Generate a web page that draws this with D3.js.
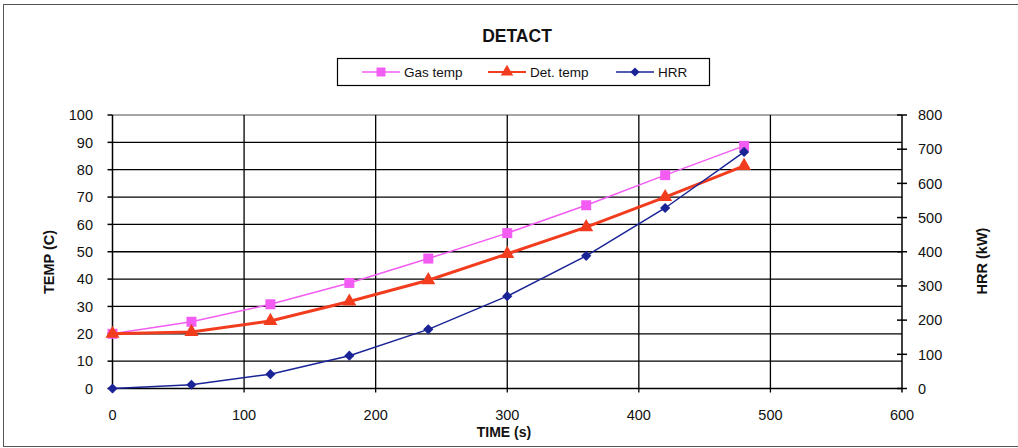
<!DOCTYPE html>
<html>
<head>
<meta charset="utf-8">
<script src="https://cdn.jsdelivr.net/npm/d3@7"></script>
<style>
  html, body { margin: 0; padding: 0; background: #fff; }
  svg text { font-family: "Liberation Sans", Arial, sans-serif; fill: #111; }
</style>
</head>
<body>
<svg id="chart" width="1018" height="448"></svg>
<script>
// data
const times    = [0, 60, 120, 180, 240, 300, 360, 420, 480];
const gasTemp  = [20, 24.4, 30.8, 38.6, 47.5, 56.8, 67, 78, 88.7];
const detTemp  = [20, 20.7, 24.7, 31.8, 39.6, 49.2, 59, 70, 81.4];
const hrr      = [0, 11, 42, 96, 173, 270, 388, 528, 692];
const xTicks   = [0, 100, 200, 300, 400, 500, 600];
const yTicks   = d3.range(0, 101, 10);
const y2Ticks  = d3.range(0, 801, 100);

const svg = d3.select("#chart");

// outer frame
svg.append("rect")
   .attr("x", 3.5).attr("y", 4.5)
   .attr("width", 1040).attr("height", 442)
   .attr("fill", "none").attr("stroke", "#555").attr("stroke-width", 1);

const m = { left: 112.5, right: 902, top: 115, bottom: 388.5 };

const x  = d3.scaleLinear().domain([0, 600]).range([m.left, m.right]);
const y  = d3.scaleLinear().domain([0, 100]).range([m.bottom, m.top]);
const y2 = d3.scaleLinear().domain([0, 800]).range([m.bottom, m.top]);

/* ---- grid ---- */
svg.append("g")
   .selectAll("line")
   .data(yTicks.slice(1))
   .join("line")
   .attr("x1", m.left).attr("x2", m.right)
   .attr("y1", d => y(d)).attr("y2", d => y(d))
   .attr("stroke", d => d === 100 ? "#888" : "#000")
   .attr("stroke-width", 1.3);

svg.append("g")
   .selectAll("line")
   .data(xTicks.slice(1, -1))
   .join("line")
   .attr("x1", d => x(d)).attr("x2", d => x(d))
   .attr("y1", m.top).attr("y2", m.bottom + 4)
   .attr("stroke", "#000")
   .attr("stroke-width", 1.3);

/* ---- axes ---- */
const axis = svg.append("g").attr("stroke", "#000").attr("stroke-width", 1.5);
axis.append("line").attr("x1", m.left).attr("x2", m.left).attr("y1", m.top).attr("y2", m.bottom);
axis.append("line").attr("x1", m.right).attr("x2", m.right).attr("y1", m.top).attr("y2", m.bottom + 4);
axis.append("line").attr("x1", m.left).attr("x2", m.right).attr("y1", m.bottom).attr("y2", m.bottom);

// left ticks
axis.selectAll("line.lt").data(yTicks).join("line").attr("class", "lt")
    .attr("x1", m.left - 5).attr("x2", m.left)
    .attr("y1", d => y(d)).attr("y2", d => y(d));
axis.append("line").attr("x1", m.left).attr("x2", m.left).attr("y1", m.bottom).attr("y2", m.bottom + 4);
// right ticks (cross)
axis.selectAll("line.rt").data(y2Ticks).join("line").attr("class", "rt")
    .attr("x1", m.right - 5).attr("x2", m.right + 5)
    .attr("y1", d => y2(d)).attr("y2", d => y2(d));

svg.append("g").selectAll("text").data(yTicks).join("text")
   .attr("x", 93).attr("y", d => y(d)).attr("dy", "0.36em")
   .attr("text-anchor", "end").attr("font-size", 14.5)
   .text(d => d);

svg.append("g").selectAll("text").data(y2Ticks).join("text")
   .attr("x", 918).attr("y", d => y2(d)).attr("dy", "0.36em")
   .attr("text-anchor", "start").attr("font-size", 14.5)
   .text(d => d);

svg.append("g").selectAll("text").data(xTicks).join("text")
   .attr("x", d => x(d)).attr("y", 415).attr("dy", "0.36em")
   .attr("text-anchor", "middle").attr("font-size", 14.5)
   .text(d => d);

/* ---- titles ---- */
svg.append("text").attr("x", 517).attr("y", 42)
   .attr("text-anchor", "middle").attr("font-size", 17.5).attr("font-weight", "bold")
   .text("DETACT");
svg.append("text").attr("x", 504).attr("y", 437)
   .attr("text-anchor", "middle").attr("font-size", 14).attr("font-weight", "bold")
   .text("TIME (s)");
svg.append("text").attr("transform", "translate(54,262) rotate(-90)")
   .attr("text-anchor", "middle").attr("font-size", 14.5).attr("font-weight", "bold")
   .text("TEMP (C)");
svg.append("text").attr("transform", "translate(987,261) rotate(-90)")
   .attr("text-anchor", "middle").attr("font-size", 14.5).attr("font-weight", "bold")
   .text("HRR (kW)");

/* ---- series ---- */
const series = [
  { name: "Gas temp",  vals: gasTemp, scale: y,  color: "#F25CF2", width: 1.5, sym: d3.symbolSquare,   size: 100, rot: 0 },
  { name: "Det. temp", vals: detTemp, scale: y,  color: "#F23C1E", width: 3,   sym: d3.symbolTriangle, size: 85,  rot: 0 },
  { name: "HRR",       vals: hrr,     scale: y2, color: "#1A2496", width: 1.5, sym: d3.symbolSquare,   size: 52,  rot: 45 }
];

series.forEach(s => {
  const line = d3.line().x((d, i) => x(times[i])).y(d => s.scale(d));
  svg.append("path").datum(s.vals)
     .attr("d", line).attr("fill", "none")
     .attr("stroke", s.color).attr("stroke-width", s.width);
  svg.append("g").selectAll("path").data(s.vals).join("path")
     .attr("transform", (d, i) => `translate(${x(times[i])},${s.scale(d)}) rotate(${s.rot})`)
     .attr("d", d3.symbol().type(s.sym).size(s.size))
     .attr("fill", s.color);
});

/* ---- legend ---- */
const lg = svg.append("g");
lg.append("rect").attr("x", 337.5).attr("y", 58.5).attr("width", 372).attr("height", 27)
  .attr("fill", "#fff").attr("stroke", "#000").attr("stroke-width", 1.2);
const legendX = [362, 488, 616];
series.forEach((s, i) => {
  const g = lg.append("g").attr("transform", `translate(${legendX[i]},72)`);
  g.append("line").attr("x1", 0).attr("x2", 38)
   .attr("stroke", s.color).attr("stroke-width", s.width === 3 ? 2 : 1.5);
  g.append("path").attr("transform", `translate(19,0) rotate(${s.rot})`)
   .attr("d", d3.symbol().type(s.sym).size(s.size * 0.8)).attr("fill", s.color);
  g.append("text").attr("x", 42).attr("dy", "0.36em").attr("font-size", 13.5)
   .text(s.name);
});
</script>
</body>
</html>
